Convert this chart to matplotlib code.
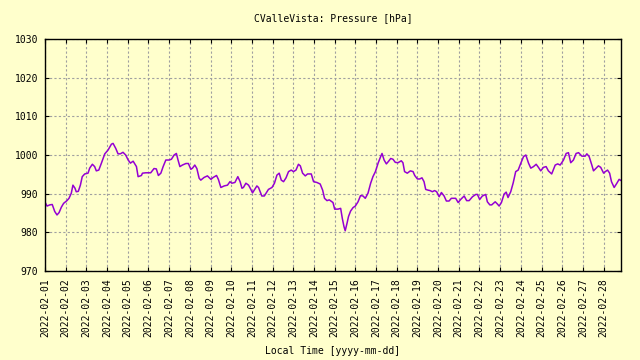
import pandas as pd
import matplotlib
matplotlib.use("Agg")
import matplotlib.pyplot as plt
import matplotlib.dates as mdates

# days since 2022-02-01 00:00 and pressure readings (hPa)
days = [0.00, 0.10, 0.23, 0.35, 0.47, 0.58, 0.68, 0.79, 0.90, 1.06, 1.16, 1.27, 1.35, 1.45, 1.51,
        1.61, 1.71, 1.80, 1.92, 2.08, 2.16, 2.29, 2.40, 2.48, 2.60, 2.72, 2.89, 3.05, 3.21, 3.29,
        3.42, 3.53, 3.64, 3.77, 3.90, 4.02, 4.13, 4.26, 4.42, 4.50, 4.66, 4.71, 4.87, 5.11, 5.27,
        5.38, 5.48, 5.60, 5.71, 5.84, 6.00, 6.11, 6.24, 6.35, 6.43, 6.52, 6.64, 6.81, 6.93, 7.05,
        7.13, 7.24, 7.34, 7.45, 7.53, 7.69, 7.85, 8.02, 8.13, 8.29, 8.38, 8.50, 8.66, 8.82, 8.94,
        9.03, 9.18, 9.32, 9.43, 9.52, 9.59, 9.71, 9.84, 9.95, 10.03, 10.11, 10.24, 10.32, 10.40,
        10.48, 10.60, 10.73, 10.80, 10.97, 11.09, 11.21, 11.32, 11.42, 11.53, 11.65, 11.77, 11.90,
        12.01, 12.13, 12.25, 12.34, 12.45, 12.58, 12.69, 12.87, 12.98, 13.14, 13.30, 13.42, 13.51,
        13.63, 13.74, 13.92, 14.00, 14.16, 14.29, 14.37, 14.45, 14.51, 14.60, 14.67, 14.77, 14.89,
        15.00, 15.13, 15.25, 15.37, 15.48, 15.61, 15.74, 15.85, 15.97, 16.10, 16.21, 16.29, 16.39,
        16.50, 16.61, 16.71, 16.82, 16.93, 17.06, 17.22, 17.30, 17.38, 17.51, 17.66, 17.79, 17.87,
        18.00, 18.11, 18.22, 18.32, 18.40, 18.52, 18.61, 18.72, 18.83, 18.93, 19.05, 19.16, 19.29,
        19.40, 19.53, 19.64, 19.85, 19.97, 20.09, 20.26, 20.38, 20.50, 20.66, 20.82, 20.90, 21.01,
        21.14, 21.30, 21.38, 21.50, 21.59, 21.76, 21.87, 21.95, 22.06, 22.19, 22.29, 22.38, 22.51,
        22.63, 22.75, 22.87, 23.00, 23.13, 23.24, 23.37, 23.48, 23.61, 23.74, 23.85, 23.96, 24.09,
        24.22, 24.33, 24.49, 24.66, 24.78, 24.90, 25.06, 25.19, 25.30, 25.41, 25.54, 25.67, 25.79,
        25.95, 26.11, 26.19, 26.30, 26.43, 26.51, 26.64, 26.75, 26.86, 27.00, 27.08, 27.19, 27.29,
        27.38, 27.51, 27.64, 27.75, 27.84]
pressure = [987.8, 986.8, 987.1, 987.2, 985.4, 984.5, 985.1, 986.5, 987.5, 988.2, 988.8, 990.1, 992.2,
            991.4, 990.5, 990.6, 992.2, 994.4, 995.1, 995.3, 996.6, 997.6, 997.0, 995.9, 996.1, 997.8,
            1000.3, 1001.3, 1002.8, 1003.0, 1001.7, 1000.3, 1000.3, 1000.7, 1000.0, 998.7, 997.9, 998.4,
            997.0, 994.4, 994.7, 995.3, 995.4, 995.4, 996.5, 996.4, 994.7, 995.3, 997.0, 998.7, 998.7,
            998.9, 1000.0, 1000.4, 998.7, 997.0, 997.4, 997.8, 997.8, 996.3, 996.6, 997.4, 996.5, 994.0,
            993.5, 994.2, 994.6, 993.7, 994.2, 994.7, 993.7, 991.6, 992.0, 992.2, 993.1, 992.7, 992.9,
            994.4, 993.1, 991.4, 991.6, 992.7, 992.2, 991.1, 990.2, 990.9, 992.0, 991.6, 990.5, 989.4,
            989.4, 990.5, 991.1, 991.6, 992.7, 994.8, 995.3, 993.5, 993.1, 994.1, 995.7, 996.1, 995.7,
            996.1, 997.6, 997.2, 995.3, 994.6, 995.1, 995.1, 993.1, 992.9, 992.5, 990.9, 988.8, 988.2,
            988.4, 987.7, 986.0, 986.0, 986.2, 983.6, 981.5, 980.4, 982.4, 984.1, 985.5, 986.4, 986.8,
            987.9, 989.5, 989.4, 988.8, 990.1, 992.7, 994.4, 995.7, 997.9, 999.4, 1000.4, 998.7, 997.7,
            998.4, 999.1, 998.9, 998.1, 998.0, 998.5, 998.0, 995.7, 995.3, 995.9, 995.7, 994.7, 993.8,
            993.8, 994.1, 993.1, 991.1, 990.9, 990.8, 990.5, 990.8, 990.5, 989.2, 990.3, 989.4, 988.1,
            988.1, 988.8, 988.8, 987.7, 988.5, 989.4, 988.2, 988.2, 989.2, 989.8, 989.8, 988.5, 989.4,
            989.8, 987.9, 987.1, 987.1, 987.9, 987.3, 986.8, 987.7, 989.9, 990.4, 989.0, 990.5, 992.8,
            995.7, 996.1, 997.9, 999.6, 1000.0, 997.9, 996.6, 997.0, 997.6, 996.8, 995.9, 996.8, 997.0,
            995.9, 995.1, 997.4, 997.7, 997.4, 998.7, 1000.4, 1000.6, 998.0, 998.7, 1000.4, 1000.6,
            999.7, 999.7, 1000.3, 999.6, 997.4, 995.9, 996.6, 997.2, 996.8, 995.3, 995.7, 996.1, 995.3,
            993.1, 991.6, 992.7, 993.7, 993.4]

times = pd.Timestamp("2022-02-01") + pd.to_timedelta(days, unit="D")

bg = "#ffffcc"
plt.rcParams["font.family"] = ["DejaVu Sans Mono"]
plt.rcParams["font.size"] = 7

fig = plt.figure(figsize=(6.4, 3.6), dpi=100, facecolor=bg)
ax = fig.add_axes([45 / 640, 1 - 271 / 360, 576 / 640, 232 / 360], facecolor=bg)

ax.plot(times, pressure, color="#9400d3", linewidth=1.1)

ax.set_ylim(970, 1030)
ax.set_yticks(range(970, 1031, 10))
ax.set_xlim(times[0], times[-1])
ax.xaxis.set_major_locator(mdates.DayLocator())
ax.xaxis.set_major_formatter(mdates.DateFormatter("%Y-%m-%d"))
plt.setp(ax.get_xticklabels(), rotation=90)

ax.grid(True, color="#a0a0a0", linestyle=(0, (2, 2)), linewidth=0.8)
ax.tick_params(direction="in", length=3, width=0.8, top=True, right=True, pad=5)
for s in ax.spines.values():
    s.set_linewidth(1.0)

# title and axis label are centred over the plot area, not the figure
cx = (45 + 621) / 2 / 640
fig.text(cx, 1 - 18 / 360, "CValleVista: Pressure [hPa]", ha="center", va="center")
fig.text(cx, 1 - 351 / 360, "Local Time [yyyy-mm-dd]", ha="center", va="center")

fig.savefig("out.png", dpi=100, facecolor=bg)
